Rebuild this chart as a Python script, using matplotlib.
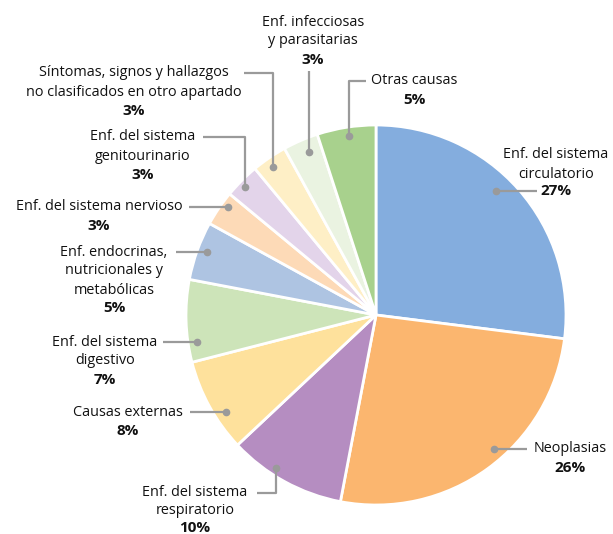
import matplotlib
matplotlib.use("Agg")
import matplotlib.pyplot as plt

# Causes of death, share of total (%)
categories = [
    "Enf. del sistema\ncirculatorio",
    "Neoplasias",
    "Enf. del sistema\nrespiratorio",
    "Causas externas",
    "Enf. del sistema\ndigestivo",
    "Enf. endocrinas,\nnutricionales y\nmetabólicas",
    "Enf. del sistema nervioso",
    "Enf. del sistema\ngenitourinario",
    "Síntomas, signos y hallazgos\nno clasificados en otro apartado",
    "Enf. infecciosas\ny parasitarias",
    "Otras causas",
]
values = [27, 26, 10, 8, 7, 5, 3, 3, 3, 3, 5]
colors = ["#84ADDE", "#FBB66F", "#B58DC1", "#FEE19C", "#CDE4B9", "#AEC4E2",
          "#FDDAB7", "#E3D4EA", "#FEEFC6", "#EAF3E1", "#A8D18D"]

W, H = 613, 534
fig = plt.figure(figsize=(W / 100, H / 100), dpi=100)
ax = fig.add_axes([0, 0, 1, 1])

def Y(y):
    return H - y

cx, cy, r = 376, 315, 190
ax.pie(values, colors=colors, startangle=90, counterclock=False,
       center=(cx, Y(cy)), radius=r, frame=True,
       wedgeprops=dict(edgecolor="white", linewidth=2))
ax.set_xlim(0, W)
ax.set_ylim(0, H)
ax.set_aspect("equal")
ax.axis("off")

FONT = "Open Sans"
FS = 10.4
FS_PCT = 11
LH = 19
LC = "#9a9a9a"
TC = "#111111"

def label(text, pct, x, y, pct_dy=0):
    lines = text.split("\n")
    for i, ln in enumerate(lines):
        ax.text(x, Y(y + i * LH), ln, ha="center", va="center",
                fontsize=FS, family=FONT, color=TC)
    ax.text(x, Y(y + len(lines) * LH + pct_dy), f"{pct}%", ha="center",
            va="center", fontsize=FS_PCT, family=FONT, fontweight="bold",
            color=TC)

def leader(pts):
    xs = [p[0] for p in pts]
    ys = [Y(p[1]) for p in pts]
    ax.plot(xs, ys, color=LC, lw=1.6, solid_capstyle="butt", zorder=5)
    ax.plot(xs[-1], ys[-1], "o", color=LC, ms=4.5, zorder=6)

# label anchors (text centre x, first line y) and leader paths
label_pos = [(556, 155), (570, 449), (195, 492), (128, 412), (105, 342),
             (114, 252), (99, 207), (143, 137), (134, 73), (313, 22), (414, 81)]
pct_shift = [-2, 0, -2, 0, 0, -1, 0, 0, 0, 0, 0]
paths = [
    [(537, 191), (496, 191)],
    [(527, 449), (494, 449)],
    [(257, 493), (276, 493), (276, 468)],
    [(190, 412), (226, 412)],
    [(163, 342), (197, 342)],
    [(176, 252), (207, 252)],
    [(189, 207), (228, 207)],
    [(203, 137), (245, 137), (245, 187)],
    [(244, 73), (273, 73), (273, 167)],
    [(309, 71), (309, 152)],
    [(366, 81), (349, 81), (349, 136)],
]

for i, (cat, v) in enumerate(zip(categories, values)):
    x, y = label_pos[i]
    label(cat, v, x, y, pct_shift[i])
    leader(paths[i])

fig.savefig("out.png", dpi=100)
